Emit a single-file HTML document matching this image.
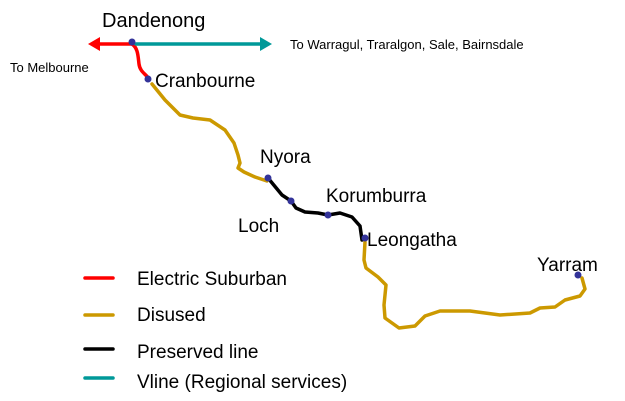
<!DOCTYPE html>
<html><head><style>body{margin:0;background:#fff}svg{display:block}text{font-family:"Liberation Sans",sans-serif;fill:#000}</style></head><body>
<svg width="625" height="401" viewBox="0 0 625 401">
<g fill="none" stroke-width="3.5" stroke-linejoin="round" stroke-linecap="round">
<path d="M132,44 L96,44" stroke="#f00"/>
<path d="M132,44 C138,48 138,56 139,64 C140,72 146,74 149,79" stroke="#f00"/>
<path d="M136,44 L262,44" stroke="#009999"/>
<path d="M152,84 L165,100 L180,115 L193,118 L210,120 L225,130 L234,143 L238,155 L240,163 L238,168 L244,172 L255,177 L267,181" stroke="#cc9900"/>
<path d="M268,178 L282,195 L291,201 L296,208 L305,212 L318,213 L328,215 L340,213 L352,217 L360,226 L362,240" stroke="#000"/>
<path d="M365,242 L364,260 L366,268 L378,277 L386,285 L384,305 L385,318 L399,328 L415,326 L425,316 L440,311 L470,311 L500,315 L530,313 L540,308 L555,307 L565,300 L580,296 L585,289 L582,278" stroke="#cc9900"/>
<line x1="85" y1="278" x2="113" y2="278" stroke="#f00"/>
<line x1="85" y1="315" x2="113" y2="315" stroke="#cc9900"/>
<line x1="85" y1="349" x2="113" y2="349" stroke="#000"/>
<line x1="85" y1="378" x2="113" y2="378" stroke="#009999"/>
</g>
<polygon points="88,44 100,37 100,51" fill="#f00"/>
<polygon points="272,44 260,37 260,51" fill="#009999"/>
<g fill="#333399">
<circle cx="132" cy="42" r="3.5"/><circle cx="148" cy="79" r="3.5"/><circle cx="268" cy="178" r="3.5"/><circle cx="291" cy="201" r="3.5"/><circle cx="328" cy="215" r="3.5"/><circle cx="365" cy="238" r="3.5"/><circle cx="578" cy="275" r="3.5"/>
</g>
<text x="102" y="27" font-size="20">Dandenong</text>
<text x="155" y="87" font-size="19">Cranbourne</text>
<text x="260" y="163" font-size="19">Nyora</text>
<text x="326" y="202" font-size="19">Korumburra</text>
<text x="238" y="232" font-size="19">Loch</text>
<text x="367" y="246" font-size="19">Leongatha</text>
<text x="537" y="271" font-size="19">Yarram</text>
<text x="10" y="72" font-size="13">To Melbourne</text>
<text x="290" y="49" font-size="13">To Warragul, Traralgon, Sale, Bairnsdale</text>
<text x="137" y="285" font-size="19">Electric Suburban</text>
<text x="137" y="321" font-size="19">Disused</text>
<text x="137" y="358" font-size="19">Preserved line</text>
<text x="137" y="388" font-size="19">Vline (Regional services)</text>
</svg>
</body></html>
